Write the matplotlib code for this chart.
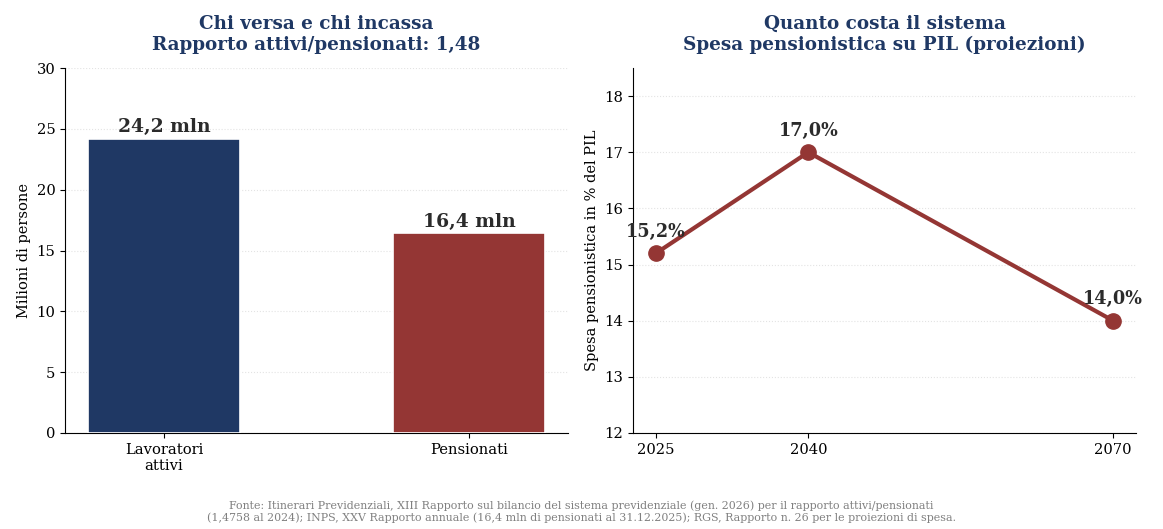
import matplotlib
matplotlib.use("Agg")
import matplotlib.pyplot as plt

plt.rcParams['font.family'] = ['DejaVu Serif']

categories = ["Lavoratori\nattivi", "Pensionati"]
people = [24.2, 16.4]
people_labels = ["24,2 mln", "16,4 mln"]
bar_colors = ["#1f3864", "#943634"]

years = [2025, 2040, 2070]
spesa = [15.2, 17.0, 14.0]
spesa_labels = ["15,2%", "17,0%", "14,0%"]

title_color = "#1f3864"
text_color = "#2b2b2b"

fig = plt.figure(figsize=(11.63, 5.29), dpi=100)
ax1 = fig.add_axes([65/1163, 1-433/529, 503/1163, 365/529])
ax2 = fig.add_axes([633/1163, 1-433/529, 503/1163, 365/529])

x = list(range(len(categories)))
ax1.bar(x, people, width=0.5, color=bar_colors, edgecolor="white", linewidth=1.2, zorder=3)
ax1.set_xticks(x)
ax1.set_xticklabels(categories)
ax1.set_ylim(0, 30)
ax1.set_ylabel("Milioni di persone", fontsize=10.5)
for xi, v, lab in zip(x, people, people_labels):
    ax1.annotate(lab, (xi, v), xytext=(0, 2), textcoords="offset points",
                 ha="center", va="bottom", fontsize=13.5, fontweight="bold", color=text_color)
ax1.set_title("Chi versa e chi incassa\nRapporto attivi/pensionati: 1,48",
              fontsize=13.2, fontweight="bold", color=title_color, pad=13)

ax2.plot(years, spesa, color="#943634", linewidth=3, marker="o", markersize=11, zorder=3)
ax2.set_xticks(years)
ax2.set_ylim(12, 18.5)
ax2.set_ylabel("Spesa pensionistica in % del PIL", fontsize=10.5)
for xv, v, lab in zip(years, spesa, spesa_labels):
    ax2.annotate(lab, (xv, v), xytext=(0, 9), textcoords="offset points",
                 ha="center", va="bottom", fontsize=12.7, fontweight="bold", color=text_color)
ax2.set_title("Quanto costa il sistema\nSpesa pensionistica su PIL (proiezioni)",
              fontsize=13.2, fontweight="bold", color=title_color, pad=13)

for ax in (ax1, ax2):
    ax.spines['top'].set_visible(False)
    ax.spines['right'].set_visible(False)
    ax.yaxis.grid(True, linestyle=":", color="#dddddd", linewidth=0.8, alpha=0.8)
    ax.set_axisbelow(True)
    ax.tick_params(labelsize=10.6)

fig.text(0.5, 0.032,
         "Fonte: Itinerari Previdenziali, XIII Rapporto sul bilancio del sistema previdenziale (gen. 2026) per il rapporto attivi/pensionati\n"
         "(1,4758 al 2024); INPS, XXV Rapporto annuale (16,4 mln di pensionati al 31.12.2025); RGS, Rapporto n. 26 per le proiezioni di spesa.",
         ha="center", va="center", fontsize=7.9, color="#808080")

fig.savefig("out.png", dpi=100)
